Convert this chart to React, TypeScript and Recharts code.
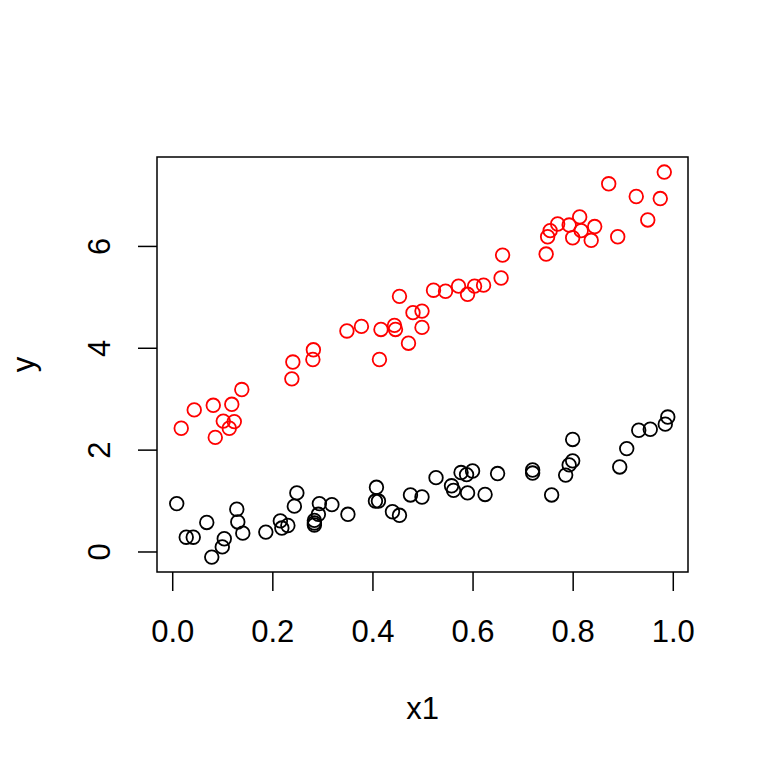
import React from 'react';
import { ScatterChart, Scatter, XAxis, YAxis, ReferenceArea, Label } from 'recharts';

const blackX = [0.008, 0.027, 0.041, 0.068, 0.078, 0.103, 0.099, 0.128, 0.130, 0.140, 0.186, 0.215, 0.218, 0.230, 0.243, 0.248, 0.283, 0.283, 0.283, 0.291, 0.293, 0.318, 0.350, 0.407, 0.405, 0.411, 0.439, 0.453, 0.475, 0.498, 0.526, 0.557, 0.561, 0.576, 0.587, 0.599, 0.589, 0.624, 0.649, 0.719, 0.719, 0.757, 0.785, 0.792, 0.799, 0.799, 0.893, 0.907, 0.931, 0.954, 0.984, 0.989];
const blackY = [0.95, 0.29, 0.29, 0.58, -0.10, 0.26, 0.10, 0.84, 0.59, 0.37, 0.39, 0.61, 0.47, 0.52, 0.90, 1.16, 0.62, 0.57, 0.53, 0.74, 0.95, 0.93, 0.74, 1.27, 1.00, 1.00, 0.79, 0.72, 1.12, 1.08, 1.46, 1.30, 1.21, 1.56, 1.52, 1.59, 1.16, 1.13, 1.54, 1.61, 1.55, 1.12, 1.51, 1.71, 1.79, 2.21, 1.67, 2.03, 2.39, 2.41, 2.51, 2.65];

const redX = [0.017, 0.043, 0.081, 0.085, 0.101, 0.118, 0.113, 0.123, 0.138, 0.238, 0.240, 0.281, 0.280, 0.348, 0.377, 0.413, 0.416, 0.443, 0.445, 0.453, 0.471, 0.480, 0.498, 0.498, 0.521, 0.545, 0.571, 0.589, 0.603, 0.621, 0.656, 0.659, 0.746, 0.749, 0.754, 0.769, 0.792, 0.799, 0.813, 0.816, 0.836, 0.843, 0.889, 0.871, 0.926, 0.949, 0.974, 0.982];
const redY = [2.43, 2.79, 2.88, 2.25, 2.57, 2.90, 2.43, 2.56, 3.19, 3.40, 3.73, 3.97, 3.78, 4.34, 4.43, 3.78, 4.37, 4.45, 4.37, 5.02, 4.10, 4.70, 4.73, 4.41, 5.14, 5.12, 5.22, 5.06, 5.22, 5.24, 5.38, 5.83, 5.85, 6.19, 6.31, 6.44, 6.42, 6.17, 6.58, 6.31, 6.12, 6.39, 6.19, 7.23, 6.98, 6.52, 6.94, 7.46];

const xTicks = [0, 0.2, 0.4, 0.6, 0.8, 1.0];
const yTicks = [0, 2, 4, 6];
const xDomain: [number, number] = [-0.0314, 1.0294];
const yDomain: [number, number] = [-0.393, 7.756];
const xLabel = 'x1';
const yLabel = 'y';

const blackData = blackX.map((x, i) => ({ x, y: blackY[i] }));
const redData = redX.map((x, i) => ({ x, y: redY[i] }));

const FONT = '"Liberation Sans", Arial, Helvetica, sans-serif';
const FS = 31;

const XTick = (props: any) => {
  const { x, y, payload } = props;
  return (
    <text x={x} y={y + 51} textAnchor="middle" fontFamily={FONT} fontSize={FS} fill="#000">
      {Number(payload.value).toFixed(1)}
    </text>
  );
};

const YTick = (props: any) => {
  const { x, y, payload } = props;
  const tx = x - 28;
  return (
    <text x={tx} y={y} transform={`rotate(-90, ${tx}, ${y})`} textAnchor="middle" fontFamily={FONT} fontSize={FS} fill="#000">
      {String(payload.value)}
    </text>
  );
};

const makeCircle = (color: string) => (props: any) => (
  <circle cx={props.cx} cy={props.cy} r={6.8} fill="none" stroke={color} strokeWidth={1.8} />
);

const XTitle = (props: any) => {
  const vb = props.viewBox;
  return (
    <text x={vb.x + vb.width / 2} y={vb.y + 147} textAnchor="middle" fontFamily={FONT} fontSize={FS} fill="#000">
      {xLabel}
    </text>
  );
};

const YTitle = (props: any) => {
  const vb = props.viewBox;
  const tx = vb.x + vb.width - 123;
  const ty = vb.y + vb.height / 2;
  return (
    <text x={tx} y={ty} transform={`rotate(-90, ${tx}, ${ty})`} textAnchor="middle" fontFamily={FONT} fontSize={FS} fill="#000">
      {yLabel}
    </text>
  );
};

export default function App() {
  return (
    <div style={{ position: 'absolute', left: 0, top: 0, width: 768, height: 768, background: '#fff' }}>
      <ScatterChart width={768} height={768} margin={{ top: 157, right: 80, left: 0, bottom: 0 }}>
        <XAxis
          type="number"
          dataKey="x"
          domain={xDomain}
          ticks={xTicks}
          allowDataOverflow
          height={196}
          axisLine={false}
          tickLine={{ stroke: '#000', strokeWidth: 1.5 }}
          tickSize={19}
          tickMargin={0}
          tick={<XTick />}
          interval={0}
        >
          <Label content={<XTitle />} />
        </XAxis>
        <YAxis
          type="number"
          dataKey="y"
          domain={yDomain}
          ticks={yTicks}
          allowDataOverflow
          width={157}
          axisLine={false}
          tickLine={{ stroke: '#000', strokeWidth: 1.5 }}
          tickSize={19}
          tickMargin={0}
          tick={<YTick />}
          interval={0}
        >
          <Label content={<YTitle />} />
        </YAxis>
        <ReferenceArea
          x1={xDomain[0]}
          x2={xDomain[1]}
          y1={yDomain[0]}
          y2={yDomain[1]}
          fill="none"
          fillOpacity={0}
          stroke="#000"
          strokeWidth={1.5}
          ifOverflow="visible"
        />
        <Scatter data={blackData} isAnimationActive={false} shape={makeCircle('#000')} />
        <Scatter data={redData} isAnimationActive={false} shape={makeCircle('#ff0000')} />
      </ScatterChart>
    </div>
  );
}
